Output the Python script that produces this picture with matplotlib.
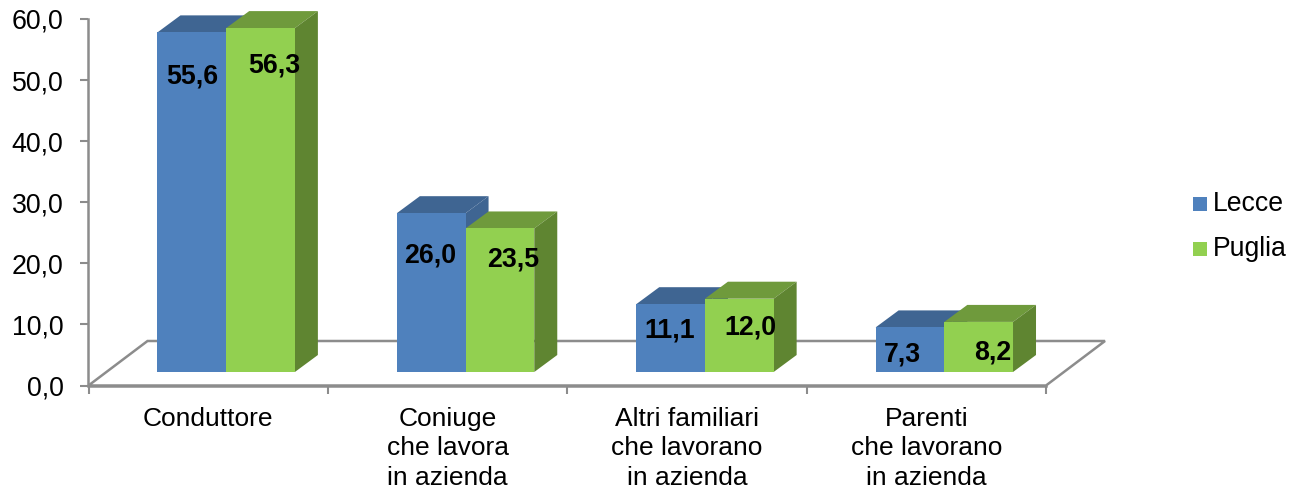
import matplotlib
matplotlib.use('Agg')
import matplotlib.pyplot as plt
from matplotlib.patches import Polygon

categories = ['Conduttore', 'Coniuge\nche lavora\nin azienda',
              'Altri familiari\nche lavorano\nin azienda',
              'Parenti\nche lavorano\nin azienda']
lecce = [55.6, 26.0, 11.1, 7.3]
puglia = [56.3, 23.5, 12.0, 8.2]
yticks = [0, 10, 20, 30, 40, 50, 60]

# label offsets from the top centre of each bar front, in pixels
lecce_dx = [0, -1, -1, -8]
lecce_dy = [44, 42, 26, 27]
puglia_dx = [13.5, 13.5, 11.5, 14.5]
puglia_dy = [37, 31, 29, 31]

plt.rcParams['font.family'] = ['Liberation Sans', 'DejaVu Sans']

W, H = 1289, 490
fig = plt.figure(figsize=(W/100, H/100), dpi=100)
# plot box in pixels: x 88.5-1046, y 385.5 up to 19
ax = fig.add_axes([88.5/W, 1-385.5/H, (1046-88.5)/W, (385.5-19)/H])
ax.set_xlim(-0.5, 3.5)
ax.set_ylim(0, 60)

# pixel sizes in data units
ux = 4/957.5
uy = 60/366.5
bw = 68.7*ux
shift = 18*ux      # bars sit forward on the floor
base = 13.5*uy
dx = 23*ux
dy = 17*uy

grey = '#8c8c8c'

# floor
fx = 59*ux
fy = 44.5*uy
ax.add_patch(Polygon([(-0.5, 0), (-0.5+fx, fy), (3.5+fx, fy), (3.5, 0)], closed=True,
                     fill=False, ec=grey, lw=1.8, clip_on=False, zorder=1))


def draw_bar(x, v, front, top, side):
    y1 = base + v
    ax.bar(x, v, bw, bottom=base, align='edge', color=front, lw=0, zorder=3)
    ax.add_patch(Polygon([(x, y1), (x+dx, y1+dy), (x+bw+dx, y1+dy), (x+bw, y1)],
                         closed=True, fc=top, ec='none', clip_on=False, zorder=2))
    ax.add_patch(Polygon([(x+bw, base), (x+bw+dx, base+dy), (x+bw+dx, y1+dy), (x+bw, y1)],
                         closed=True, fc=side, ec='none', clip_on=False, zorder=2))


for i in range(len(categories)):
    x0 = i - bw + shift
    draw_bar(x0, lecce[i], '#4f81bd', '#3f6592', '#3f6592')
    draw_bar(x0 + bw, puglia[i], '#92d050', '#6f9a3c', '#5f8531')
    ax.text(x0 + bw/2 + lecce_dx[i]*ux, base + lecce[i] - lecce_dy[i]*uy,
            '{:.1f}'.format(lecce[i]).replace('.', ','),
            ha='center', va='center', fontsize=19.3, fontweight='bold', zorder=5)
    ax.text(x0 + bw*1.5 + puglia_dx[i]*ux, base + puglia[i] - puglia_dy[i]*uy,
            '{:.1f}'.format(puglia[i]).replace('.', ','),
            ha='center', va='center', fontsize=19.3, fontweight='bold', zorder=5)

for s in ['top', 'right']:
    ax.spines[s].set_visible(False)
for s in ['left', 'bottom']:
    ax.spines[s].set_color(grey)
    ax.spines[s].set_linewidth(1.8)
ax.patch.set_alpha(0)

ax.set_yticks(yticks)
ax.set_yticklabels(['{:.1f}'.format(v).replace('.', ',') for v in yticks], fontsize=19.3)
ax.set_xticks([-0.5, 0.5, 1.5, 2.5, 3.5])
ax.set_xticklabels([])
ax.tick_params(axis='both', color=grey, width=1.5, length=6)
ax.tick_params(axis='y', pad=12)

for i, c in enumerate(categories):
    ax.text(i, -3.5, c, ha='center', va='top', fontsize=19, linespacing=1.28)

# legend
for name, col, py in [('Lecce', '#4f81bd', 204), ('Puglia', '#92d050', 249)]:
    fig.patches.append(plt.Rectangle((1193/W, 1-(py+7)/H), 14/W, 14/H, transform=fig.transFigure,
                                     fc=col, ec='none'))
    fig.text(1213/W, 1-py/H, name, ha='left', va='center', fontsize=19.2)

fig.savefig('out.png', dpi=100)
